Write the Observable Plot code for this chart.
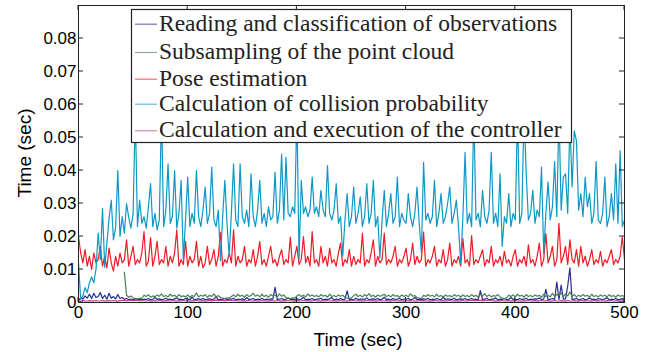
<!DOCTYPE html>
<html><head><meta charset="utf-8">
<script src="https://cdn.jsdelivr.net/npm/d3@7"></script>
<script src="https://cdn.jsdelivr.net/npm/@observablehq/plot@0.6"></script>
<style>body{margin:0;background:#fff}#chart{width:651px;height:352px}</style>
</head><body><div id="chart"></div>
<script>
const seriesNames = [
  "Reading and classification of observations",
  "Subsampling of the point cloud",
  "Pose estimation",
  "Calculation of collision probability",
  "Calculation and execution of the controller"
];
const seriesColors = ["#2a2a94", "#4b7d5c", "#ee1c25", "#0e98c6", "#b5488e"];
const timeStep = 2; // seconds between samples, values in milliseconds

const readingMs = [
  0.5,1.5,1,2,1.3,2.5,1.2,2.8,1.5,1.8,
  3,1.2,2.2,1,2.8,1.3,1.8,1.1,2.4,1.2,
  1.5,1,1.2,0.9,1,0.8,1.1,0.9,1,0.8,
  1,0.9,1.2,0.8,1,1.5,0.9,1.1,0.8,1,
  1.3,0.9,1,0.8,1.1,1.4,0.9,1,0.8,1.2,
  1,0.9,1.6,0.8,1,1.1,0.9,1.2,0.8,1,
  1.1,0.9,1,1.8,0.8,1,0.9,1.2,0.8,1,
  1,1.3,0.8,1,0.9,1.1,0.8,1.5,0.9,1,
  1.2,0.8,1,0.9,1.3,0.8,1,0.9,1.1,1,
  4.6,0.9,1,1.2,0.8,1,1.4,0.9,1,0.8,
  1.1,0.9,1,1.6,0.8,1,0.9,1.2,0.8,1,
  1,1.3,0.8,1,0.9,1.1,1.5,0.8,1,0.9,
  1.2,0.8,1,3.5,0.9,1,0.8,1.3,0.9,1,
  1,0.9,1.4,0.8,1,1.1,0.9,1.2,0.8,1,
  1.6,0.9,1,0.8,1.2,0.9,1,1.3,0.8,1,
  1,1.2,0.8,1,1.5,0.9,1,0.8,1.1,0.9,
  1.3,0.8,1,0.9,1.2,1,0.8,1.6,0.9,1,
  1,0.9,1.3,0.8,1,1.1,0.9,1.2,0.8,1,
  1.2,0.9,1,0.8,3.6,0.9,1,1.3,0.8,1,
  1,1.4,0.8,1,0.9,1.2,0.8,1,1.5,0.9,
  1,0.8,1.2,0.9,1,1.3,0.8,1,0.9,1.1,
  1,1.4,0.9,1,4,0.8,1,1.2,0.9,6.2,
  0.9,5.3,1,1.1,5,10.5,0.9,1,1.3,0.8,
  1,1.2,0.8,1,1.4,0.9,1,0.8,1.2,1,
  0.9,1.1,1.5,0.8,1,0.9,1.2,0.8,1,1.1,
  1
];
const subsamplingMs = [
  null,null,null,null,null,null,null,null,null,null,
  null,null,null,null,null,null,null,null,null,null,
  null,9.2,2.2,1.6,2,1.3,1.2,1.1,1.3,1.2,
  2.2,1.8,2.4,1.6,2,1.7,2.3,1.9,2.6,1.8,
  2.1,1.7,2.5,1.9,2.2,1.6,2.4,1.8,2,1.7,
  2.3,1.6,2.1,1.8,2.9,1.7,2.2,1.9,2.4,1.6,
  2.2,1.8,2.6,1.7,2.1,1.5,1.3,1.2,1.4,1.3,
  1.8,2.3,1.7,2.5,1.9,2.2,1.6,2.4,1.8,2.1,
  2.8,1.9,2.3,1.7,2.5,1.8,2.2,1.6,2.4,2,
  2.2,1.7,2.6,1.9,2.3,1.5,1.3,1.2,1.4,1.3,
  2,2.4,1.8,2.2,1.7,2.6,1.9,2.3,1.8,2.1,
  1.7,2.4,1.9,2.2,1.6,2.5,1.8,2.1,1.7,2.3,
  1.9,2.2,1.6,1.3,1.2,1.4,2.1,2.5,1.8,2.2,
  1.7,2.4,1.9,2.7,1.8,2.2,1.6,2.3,1.9,2.1,
  2.5,1.8,2.2,1.7,2.4,1.9,2.1,1.6,2.3,1.8,
  2.2,1.7,2.6,1.9,2.1,1.5,1.3,1.2,2.2,1.8,
  2.4,1.9,2.2,1.7,2.5,1.8,2.1,1.6,2.3,1.9,
  2.1,1.7,2.4,1.9,2.2,1.6,2.3,1.8,2.1,1.7,
  2.4,1.8,2.2,1.6,2.5,1.9,2.7,1.8,2.3,1.7,
  2.1,1.9,2.4,1.7,1.3,1.2,1.4,2.2,1.8,2.3,
  1.7,2.5,1.9,2.2,1.6,2.4,1.8,2.1,1.7,2.3,
  1.9,2.2,1.6,2.5,1.8,2.1,1.7,2.8,1.9,2.4,
  2.2,2.9,1.8,2.6,2,3.2,1.9,2.4,1.7,2.2,
  1.8,2.4,1.9,2.2,1.6,2.5,1.8,2.1,1.7,2.3,
  1.9,2.2,1.7,2.4,1.8,2.1,1.6,2.3,1.9,2.1,
  1.8
];
const poseMs = [
  20,15,12,16,11,14,10,15,12,13,
  17,11,14,10.5,16.5,12,9.5,14,11,15,
  12,13,19,11,14,17,11.5,13,12,15,
  21.5,11,12.5,19.7,11,14,18.5,11.5,13,12,
  17,11,14,12,15,22,11,13,11.5,18.5,
  11,14,12,13,18.5,11,14,10.5,12,17,
  11.5,13,16,11,14,21.2,11,13,12,15,
  12,22,11,14,12,13,17,11,13,12,
  16,11,14,18.5,11.5,13,11,14,17,12,
  13,11,14,16,11.5,13,12,19.8,11,14,
  17,11.5,13,20,12,14,11,21.5,12,13,
  11,17,12,14,11,16.5,12,13,11,15,
  18,11,13,12,16,11,14,11.5,13,12,
  21,11,13,12,15,19,11,14,12,13,
  21,11.5,13,12,14,17,11,13,12,14,
  16.5,11,13,18,11.5,14,12,13,21.3,11,
  13,12,14,17,11,13,12,16,11,13,
  18,11,13,12,14,11,19.4,12,13,11,
  20.3,11.5,13,12,14,16,11,13,12,17,
  11,13,12,14,11,15.5,12,13,11,14,
  16,11,13,12,14,11,17.5,12,13,11,
  14,18,11,13,20.9,12,14,17,11,13,
  24,12,14,17,11.5,19,13,12,16,11,
  17,12,14,11,13,16,11.5,13,12,15.5,
  11,13,12,14,16,11.5,13,12,14,20,
  13
];
const collisionMs = [
  12,1,2,4.5,3,6,7.7,6,10,21,
  13,28.5,10.7,18,25.5,31,19,22.8,40,20,
  26,21,30,25.8,22.5,27,58,23,31,24,
  26,22.5,29,36,23,27,22,25,58,23,
  28,42,24,26,40,22.5,27,37,13,25,
  38,23,27,24,40,26,23,28,35,24,
  27,41,25,23,28,12.7,26,37,24,14,
  27,42,25,23,42,26,24,28,23,39,
  26,23,28,37,24,27,23,29,25,26,
  39.5,24,28,45,25,44,27,26,29,27,
  58,13,37,27,29,26,28,38,27,29,
  26,34,28,26,41.5,27,25,28,36,24,
  26,14,25,33,23,26,35,24,27,32,
  23,26,36,24,27,37,23,26,13.5,25,
  34,23,27,33,24,26,38,23,27,25,
  24,33,26,23,27,35,24,15,42.5,25,
  27,24,26,37,23,27,33,24,26,30,
  35,24,27,31,23,11.8,26,45.5,24,27,
  23,58,25,27,23,34,26,24,28,45.5,
  24,27,23,39,17,26,24,33,23,27,
  25,58,24,27,58,39,25,27,34,24,
  28,26,41,14.8,27,36.5,25,29,42.7,26,
  58,28,38,39,27,55,35,52,49,28,
  33,26,38,29,33,24,27,42.7,25,24,
  27,38,23,26,33,25,42,24,46,23,
  25
];
const controllerMs = [
  0.5,0.4,0.6,0.5,0.45,0.55,0.4,0.5,0.6,0.45,
  0.5,0.6,0.4,0.5,0.55,0.45,0.6,0.5,0.4,0.55,
  0.6,0.7,0.5,0.65,0.7,0.55,0.6,0.7,0.5,0.6,
  0.45,0.5,0.6,0.4,0.5,0.55,0.45,0.6,0.5,0.4,
  0.55,0.5,0.45,0.6,0.5,0.4,0.55,0.5,0.6,0.45,
  0.5,0.4,0.55,0.5,0.6,0.45,0.5,0.55,0.4,0.5,
  0.6,0.5,0.65,0.7,0.55,0.6,0.7,0.5,0.6,0.65,
  0.7,0.55,0.6,0.5,0.45,0.55,0.4,0.5,0.6,0.45,
  0.5,0.55,0.4,0.5,0.6,0.45,0.5,0.4,0.55,0.5,
  0.45,0.6,0.5,0.4,0.55,0.5,0.6,0.45,0.5,0.4,
  0.55,0.5,0.45,0.6,0.5,0.55,0.4,0.5,0.6,0.45,
  0.5,0.4,0.55,0.5,0.6,0.45,0.5,0.55,0.4,0.5,
  0.6,0.45,0.5,0.4,0.55,0.5,0.6,0.45,0.5,0.55,
  0.4,0.5,0.6,0.45,0.5,0.55,0.4,0.5,0.6,0.5,
  0.45,0.55,0.5,0.4,0.6,0.5,0.45,0.55,0.5,0.4,
  0.6,0.5,0.55,0.45,0.5,0.4,0.6,0.5,0.55,0.45,
  0.5,0.4,0.55,0.5,0.6,0.45,0.5,0.55,0.4,0.5,
  0.6,0.45,0.5,0.55,0.4,0.5,0.6,0.45,0.5,0.55,
  0.65,0.7,0.55,0.6,0.7,0.5,0.65,0.6,0.7,0.55,
  0.5,0.4,0.55,0.5,0.6,0.45,0.5,0.55,0.4,0.5,
  0.6,0.45,0.5,0.4,0.55,0.5,0.6,0.45,0.5,0.55,
  0.4,0.5,0.6,0.45,0.5,0.55,0.4,0.5,0.6,0.5,
  0.45,0.55,0.5,0.4,0.6,0.5,0.45,0.55,0.5,0.4,
  0.6,0.5,0.55,0.45,0.5,0.4,0.6,0.5,0.55,0.45,
  0.5,0.4,0.55,0.5,0.6,0.45,0.5,0.55,0.4,0.5,
  0.5
];

const xTicks = [0, 100, 200, 300, 400, 500];
const yTicks = [0, 0.01, 0.02, 0.03, 0.04, 0.05, 0.06, 0.07, 0.08];
const yTickLabels = ["0", "0.01", "0.02", "0.03", "0.04", "0.05", "0.06", "0.07", "0.08"];
const xLabel = "Time (sec)";
const yLabel = "Time (sec)";

const seriesValues = [readingMs, subsamplingMs, poseMs, collisionMs, controllerMs];
const seriesRows = seriesValues.map((arr, k) =>
  arr.map((v, i) => ({t: i * timeStep, y: v == null ? NaN : v / 1000, s: seriesNames[k]}))
);

const plot = Plot.plot({
  width: 651, height: 352,
  marginLeft: 78, marginRight: 27, marginTop: 5, marginBottom: 50,
  x: {domain: [0, 500]},
  y: {domain: [0, 0.09]},
  color: {domain: seriesNames, range: seriesColors},
  style: {fontFamily: "'Liberation Sans', Arial, sans-serif", background: "#fff", color: "#000"},
  marks: [
    ...seriesRows.map(rows => Plot.line(rows, {x: "t", y: "y", stroke: "s", strokeWidth: 1.2})),
    Plot.axisX({ticks: xTicks, tickSize: 0, tickPadding: 3, fontSize: 17, label: null}),
    Plot.axisY({ticks: yTicks, tickFormat: d => yTickLabels[yTicks.indexOf(d)], tickSize: 0, tickPadding: 2, fontSize: 17, label: null}),
    Plot.frame({stroke: "#222"})
  ]
});
document.getElementById("chart").append(plot);

const svg = d3.select(plot);
const sx = plot.scale("x"), sy = plot.scale("y");
const x0 = sx.apply(0), x1 = sx.apply(500), y0 = sy.apply(0), y1 = sy.apply(0.09);
const tk = svg.append("g").attr("stroke", "#222").attr("stroke-width", 1);
for (const v of xTicks) {
  const px = sx.apply(v);
  tk.append("line").attr("x1", px).attr("x2", px).attr("y1", y0).attr("y2", y0 - 5);
  tk.append("line").attr("x1", px).attr("x2", px).attr("y1", y1).attr("y2", y1 + 5);
}
for (const v of yTicks) {
  const py = sy.apply(v);
  tk.append("line").attr("x1", x0).attr("x2", x0 + 5).attr("y1", py).attr("y2", py);
  tk.append("line").attr("x1", x1).attr("x2", x1 - 5).attr("y1", py).attr("y2", py);
}
svg.append("text").attr("x", 358).attr("y", 346).attr("text-anchor", "middle")
  .attr("font-size", 19).attr("fill", "#000").attr("font-family", "'Liberation Sans', Arial, sans-serif").text(xLabel);
svg.append("text").attr("transform", "translate(31,153) rotate(-90)").attr("text-anchor", "middle")
  .attr("font-size", 19).attr("fill", "#000").attr("font-family", "'Liberation Sans', Arial, sans-serif").text(yLabel);

// legend
const lg = svg.append("g");
lg.append("rect").attr("x", 131.5).attr("y", 9.5).attr("width", 440).attr("height", 133)
  .attr("fill", "#fff").attr("stroke", "#222").attr("stroke-width", 1.2);
const baselines = [30.7, 59, 85.7, 110.7, 137.3];
seriesNames.forEach((name, i) => {
  const b = baselines[i];
  lg.append("line").attr("x1", 135).attr("x2", 157).attr("y1", b - 6.5).attr("y2", b - 6.5)
    .attr("stroke", seriesColors[i]).attr("stroke-width", 1.2).attr("stroke-opacity", 0.65);
  lg.append("text").attr("x", 159).attr("y", b).attr("text-anchor", "start").attr("font-size", 23.5).attr("fill", "#222")
    .attr("font-family", "'Liberation Serif', 'Times New Roman', serif").text(name);
});
</script>
</body></html>
